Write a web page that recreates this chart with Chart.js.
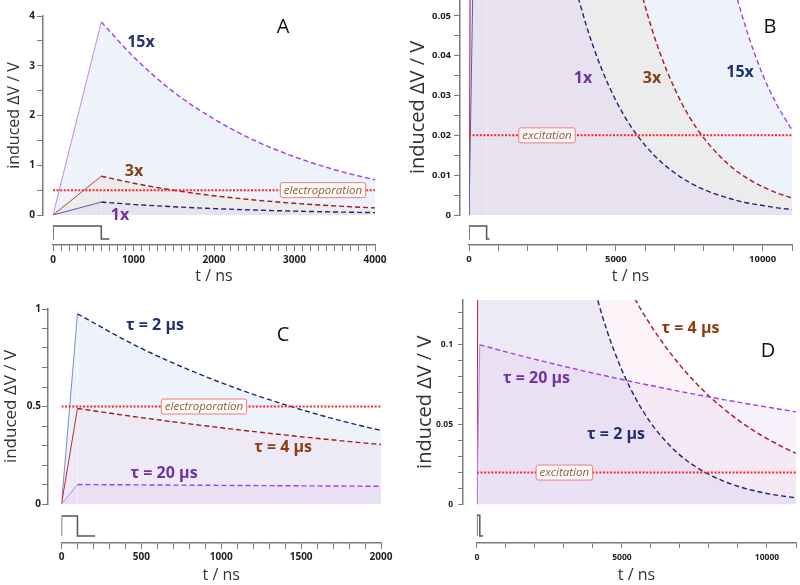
<!DOCTYPE html>
<html>
<head>
<meta charset="utf-8">
<title>Induced membrane potential</title>
<script src="https://cdn.jsdelivr.net/npm/chart.js@4.4.1/dist/chart.umd.min.js"></script>
<style>
  html, body { margin: 0; padding: 0; background: #fff; }
  #fig { position: relative; width: 800px; height: 585px; overflow: hidden; }
  #fig canvas { position: absolute; }
</style>
</head>
<body>
<div id="fig">
  <canvas id="panelA" width="400" height="290" style="left:0;top:0"></canvas>
  <canvas id="panelB" width="400" height="300" style="left:400px;top:-10px"></canvas>
  <canvas id="panelC" width="400" height="295" style="left:0;top:290px"></canvas>
  <canvas id="panelD" width="400" height="295" style="left:400px;top:290px"></canvas>
</div>
<script>
// A / B : 600 ns pulse, three amplitudes (decay after end of pulse)
const timesAB = [600, 1000, 1500, 2000, 2500, 3000, 3500, 4000, 4500, 5000, 5500, 6000, 6500, 7000, 7500, 8000, 8500, 9000, 9500, 10000, 10500, 11000];
const amp1x  = [0.26, 0.213, 0.166, 0.129, 0.1, 0.078, 0.061, 0.0475, 0.037, 0.0288, 0.0224, 0.0175, 0.0136, 0.0106, 0.0082, 0.0064, 0.005, 0.0039, 0.003, 0.0024, 0.0018, 0.0014];
const amp3x  = [0.78, 0.639, 0.497, 0.387, 0.302, 0.235, 0.183, 0.1425, 0.111, 0.0864, 0.0673, 0.0524, 0.0408, 0.0318, 0.0247, 0.0193, 0.0151, 0.0117, 0.0091, 0.0071, 0.0055, 0.0043];
const amp15x = [3.88, 3.18, 2.47, 1.93, 1.5, 1.17, 0.91, 0.709, 0.552, 0.43, 0.335, 0.261, 0.203, 0.158, 0.123, 0.0958, 0.0749, 0.0582, 0.0454, 0.0353, 0.0275, 0.0214];

// C / D : 100 ns pulse, three membrane time constants
const timesCD = [100, 500, 1000, 1500, 2000, 2500, 3000, 3500, 4000, 4500, 5000, 5500, 6000, 6500, 7000, 7500, 8000, 8500, 9000, 9500, 10000, 10500, 11000];
const tau2us  = [0.975, 0.798, 0.622, 0.484, 0.377, 0.294, 0.229, 0.178, 0.139, 0.108, 0.0841, 0.0655, 0.051, 0.0398, 0.0309, 0.0241, 0.0188, 0.0146, 0.0114, 0.0089, 0.0069, 0.0054, 0.0042];
const tau4us  = [0.49, 0.443, 0.391, 0.345, 0.305, 0.269, 0.237, 0.209, 0.185, 0.163, 0.144, 0.127, 0.112, 0.0989, 0.0873, 0.077, 0.068, 0.06, 0.053, 0.0467, 0.0413, 0.0364, 0.0321];
const tau20us = [0.1, 0.098, 0.0956, 0.0932, 0.0909, 0.0887, 0.0865, 0.0844, 0.0823, 0.0803, 0.0783, 0.0763, 0.0745, 0.0726, 0.0708, 0.0691, 0.0674, 0.0657, 0.0641, 0.0625, 0.061, 0.0595, 0.058];

// pulse shape (0 = off, 1 = on)
const pulseTimesAB = [-75, 0, 0, 600, 600, 700];
const pulseLevelAB = [0, 0, 1, 1, 0, 0];
const pulseTimesCD = [0, 0, 100, 100, 210];
const pulseLevelCD = [0, 1, 1, 0, 0];

// thresholds
const electroporation = 0.5;
const excitation = 0.02;

// tick labels
const xLabelsA = ['0', '1000', '2000', '3000', '4000'];
const yLabelsA = ['0', '1', '2', '3', '4'];
const xLabelsB = ['0', '5000', '10000'];
const yLabelsB = ['0', '0.01', '0.02', '0.03', '0.04', '0.05'];
const xLabelsC = ['0', '500', '1000', '1500', '2000'];
const yLabelsC = ['0', '0.5', '1'];
const xLabelsD = ['0', '5000', '10000'];
const yLabelsD = ['0', '0.05', '0.1'];

const AXIS_GREY = '#7b7b7b';
const NAVY = '#1c2478', DARKRED = '#a8161e', VIOLET = '#a43cec';
const TXT_NAVY = '#1f3170', TXT_BROWN = '#8c3d14', TXT_PURPLE = '#7131a3';
const FONT = "'Open Sans', sans-serif";

Chart.defaults.font.family = FONT;

const curvesAB = [
    { times: timesAB, values: amp1x, line: NAVY, rise: '#5b5ba8', fill: 'rgba(221,197,249,0.25)' },
    { times: timesAB, values: amp3x, line: DARKRED, rise: '#c43c3c', fill: 'rgba(234,223,204,0.3)' },
    { times: timesAB, values: amp15x, line: VIOLET, rise: '#c488ee', fill: 'rgba(200,215,242,0.32)' }
];
const curvesCD = [
    { times: timesCD, values: tau20us, line: VIOLET, rise: '#c080f0', fill: 'rgba(205,180,232,0.17)' },
    { times: timesCD, values: tau4us, line: DARKRED, rise: '#c02a2a', fill: 'rgba(240,200,220,0.2)' },
    { times: timesCD, values: tau2us, line: NAVY, rise: '#7d8ccc', fill: 'rgba(200,215,242,0.32)' }
];

function note(text, t, v, color, font) {
    return { text, t, v, color, font: font || `bold 16px ${FONT}` };
}
const LETTER = `20px ${FONT}`;

const panels = [
    {
        canvas: 'panelA', pad: { top: 16, right: 25 }, leftW: 43, bottomH: 45,
        gap: 10, plotW: 322, plotH: 199, pulseH: 30,
        x: { max: 4000, step: 100, labels: xLabelsA },
        y: { max: 4, step: 0.5, labels: yLabelsA },
        pulse: { times: pulseTimesAB, level: pulseLevelAB, min: -0.46, max: 1.846 },
        curves: curvesAB,
        threshold: { value: electroporation, text: 'electroporation', at: 3354 },
        notes: [
            note('15x', 1093, 3.46, TXT_NAVY),
            note('3x', 1006, 0.884, TXT_BROWN),
            note('1x', 832, 0, TXT_PURPLE),
            note('A', 2857, 3.78, '#111', LETTER)
        ],
        tickFont: 10, yTitleFont: 16, yTitlePad: 4.4, xTitlePad: 4.4, tickLength: 6, yPad: 2, xPad: 3
    },
    {
        canvas: 'panelB', pad: { top: 10, right: 8 }, leftW: 60, bottomH: 45,
        gap: 9, plotW: 323, plotH: 215, pulseH: 30,
        x: { max: 11000, step: 1000, labels: xLabelsB },
        y: { max: 0.054, step: 0.005, labels: yLabelsB },
        pulse: { times: pulseTimesAB, level: pulseLevelAB, min: -0.46, max: 1.846 },
        curves: curvesAB,
        threshold: { value: excitation, text: 'excitation', at: 2657 },
        notes: [
            note('1x', 3883, 0.0344, TXT_PURPLE),
            note('3x', 6233, 0.0344, TXT_BROWN),
            note('15x', 9230, 0.0359, TXT_NAVY),
            note('B', 10252, 0.0472, '#111', LETTER)
        ],
        tickFont: 9.5, yTitleFont: 20, yTitlePad: 6, xTitlePad: 4.4, tickLength: 6, yPad: 3, xPad: 3
    },
    {
        canvas: 'panelC', pad: { top: 19, right: 19 }, leftW: 48, bottomH: 42,
        gap: 13.5, plotW: 319.5, plotH: 195, pulseH: 39,
        x: { max: 2000, step: 100, labels: xLabelsC },
        y: { max: 1, step: 0.1, labels: yLabelsC },
        pulse: { times: pulseTimesCD, level: pulseLevelCD, min: -0.35, max: 1.6 },
        curves: curvesCD,
        threshold: { value: electroporation, text: 'electroporation', at: 892 },
        notes: [
            note('τ = 2 µs', 585, 0.918, TXT_NAVY),
            note('C', 1387, 0.867, '#111', LETTER),
            note('τ = 4 µs', 1387, 0.292, TXT_BROWN),
            note('τ = 20 µs', 642, 0.159, TXT_PURPLE)
        ],
        tickFont: 10, yTitleFont: 17, yTitlePad: 0.8, xTitlePad: 0.4, tickLength: 6, yPad: 1, xPad: 2
    },
    {
        canvas: 'panelD', pad: { top: 7, right: 2 }, leftW: 63, bottomH: 42,
        gap: 14, plotW: 321, plotH: 207, pulseH: 39,
        x: { max: 11000, step: 1000, labels: xLabelsD },
        y: { max: 0.128, step: 0.01, labels: yLabelsD },
        pulse: { times: pulseTimesCD, level: pulseLevelCD, min: -0.333, max: 1.524 },
        curves: curvesCD,
        threshold: { value: excitation, text: 'excitation', at: 3014 },
        notes: [
            note('τ = 4 µs', 7363, 0.1105, TXT_BROWN),
            note('D', 10034, 0.0957, '#111', LETTER),
            note('τ = 20 µs', 2055, 0.079, TXT_PURPLE),
            note('τ = 2 µs', 4795, 0.0438, TXT_NAVY)
        ],
        tickFont: 8.5, yTitleFont: 20, yTitlePad: 13, xTitlePad: 0, tickLength: 5, yPad: 5, xPad: 4
    }
];

function tickList(max, step) {
    const out = [];
    for (let i = 0; i * step <= max + step * 1e-6; i++) {
        out.push({ value: +(i * step).toFixed(6) });
    }
    return out;
}

function tickLabel(labels, step) {
    return value => {
        const hit = labels.find(s => Math.abs(parseFloat(s) - value) < step / 100);
        return hit === undefined ? '' : hit;
    };
}

function toPoints(times, values) {
    return times.map((t, i) => ({ x: t, y: values[i] }));
}

function curveDatasets(c) {
    const decay = {
        data: toPoints(c.times, c.values),
        borderColor: c.line,
        borderWidth: 1.4,
        borderDash: [5, 3],
        backgroundColor: c.fill,
        fill: 'origin',
        cubicInterpolationMode: 'monotone',
        pointRadius: 0,
        xAxisID: 'x', yAxisID: 'y'
    };
    const rise = {
        data: [{ x: 0, y: 0 }, { x: c.times[0], y: c.values[0] }],
        borderColor: c.rise,
        borderWidth: 1,
        backgroundColor: c.fill,
        fill: 'origin',
        tension: 0,
        pointRadius: 0,
        xAxisID: 'x', yAxisID: 'y'
    };
    return [decay, rise];
}

function notesPlugin(panel) {
    return {
        id: 'panelNotes',
        afterDraw(chart) {
            const { ctx } = chart;
            const x = chart.scales.x, y = chart.scales.y;
            ctx.save();
            const th = panel.threshold;
            const bx = x.getPixelForValue(th.at), by = y.getPixelForValue(th.value);
            ctx.font = `italic 11.5px ${FONT}`;
            const w = ctx.measureText(th.text).width + 7, h = 15;
            ctx.beginPath();
            ctx.roundRect(bx - w / 2, by - h / 2, w, h, 2);
            ctx.fillStyle = '#fffafa';
            ctx.fill();
            ctx.strokeStyle = '#f07b7b';
            ctx.lineWidth = 1;
            ctx.stroke();
            ctx.fillStyle = '#8e5b3a';
            ctx.textAlign = 'center';
            ctx.textBaseline = 'middle';
            ctx.fillText(th.text, bx, by + 0.5);
            panel.notes.forEach(n => {
                ctx.font = n.font;
                ctx.fillStyle = n.color;
                ctx.fillText(n.text, x.getPixelForValue(n.t), y.getPixelForValue(n.v));
            });
            ctx.restore();
        }
    };
}

function buildPanel(p) {
    const datasets = [{
        data: [{ x: 0, y: p.threshold.value }, { x: p.x.max, y: p.threshold.value }],
        borderColor: '#ff2424',
        borderWidth: 2,
        borderDash: [2, 1.6],
        fill: false,
        pointRadius: 0,
        xAxisID: 'x', yAxisID: 'y'
    }];
    p.curves.forEach(c => datasets.push(...curveDatasets(c)));
    datasets.push({
        data: toPoints(p.pulse.times, p.pulse.level),
        borderColor: '#555',
        borderWidth: 1.5,
        borderJoinStyle: 'miter',
        fill: false,
        tension: 0,
        pointRadius: 0,
        xAxisID: 'x', yAxisID: 'yp'
    });

    const tickFont = { family: FONT, size: p.tickFont, weight: 'bold' };
    const hidden = { ticks: { display: false }, grid: { display: false }, border: { display: false } };

    new Chart(document.getElementById(p.canvas), {
        type: 'line',
        data: { datasets },
        options: {
            responsive: false,
            animation: false,
            events: [],
            layout: { padding: { top: p.pad.top, right: p.pad.right, bottom: 0, left: 0 } },
            plugins: {
                legend: { display: false },
                tooltip: { enabled: false },
                filler: { drawTime: 'beforeDatasetsDraw' }
            },
            scales: {
                x: {
                    type: 'linear', position: 'bottom', stack: 'h', stackWeight: p.plotW, weight: 1,
                    min: 0, max: p.x.max, bounds: 'data',
                    afterFit: s => { s.height = p.bottomH; },
                    afterBuildTicks: s => { s.ticks = tickList(p.x.max, p.x.step); },
                    ticks: {
                        autoSkip: false, maxRotation: 0, padding: p.xPad,
                        font: tickFont, color: '#222',
                        callback: tickLabel(p.x.labels, p.x.step)
                    },
                    grid: { drawOnChartArea: false, tickLength: p.tickLength, color: AXIS_GREY, lineWidth: 1 },
                    border: { color: AXIS_GREY, width: 1.5 },
                    title: { display: true, text: 't / ns', color: '#333', font: { family: FONT, size: 16 }, padding: { top: 0, bottom: p.xTitlePad } }
                },
                xgap: Object.assign({
                    type: 'linear', position: 'bottom', stack: 'h', stackWeight: p.gap, weight: 0,
                    min: 0, max: 1,
                    afterFit: s => { s.height = p.bottomH; }
                }, hidden),
                y: {
                    type: 'linear', position: 'left', stack: 'v', stackWeight: p.plotH, weight: 1,
                    min: 0, max: p.y.max, bounds: 'data',
                    afterFit: s => { s.width = p.leftW; },
                    afterBuildTicks: s => { s.ticks = tickList(p.y.max, p.y.step); },
                    ticks: {
                        autoSkip: false, padding: p.yPad,
                        font: tickFont, color: '#222',
                        callback: tickLabel(p.y.labels, p.y.step)
                    },
                    grid: { drawOnChartArea: false, tickLength: p.tickLength, color: AXIS_GREY, lineWidth: 1 },
                    border: { color: AXIS_GREY, width: 1.5 },
                    title: { display: true, text: 'induced ΔV / V', color: '#333', font: { family: FONT, size: p.yTitleFont }, padding: { top: p.yTitlePad, bottom: 0 } }
                },
                yp: Object.assign({
                    type: 'linear', position: 'left', stack: 'v', stackWeight: p.pulseH, weight: 0,
                    min: p.pulse.min, max: p.pulse.max,
                    afterFit: s => { s.width = p.leftW; }
                }, hidden)
            }
        },
        plugins: [notesPlugin(p)]
    });
}

panels.forEach(buildPanel);
</script>
</body>
</html>
